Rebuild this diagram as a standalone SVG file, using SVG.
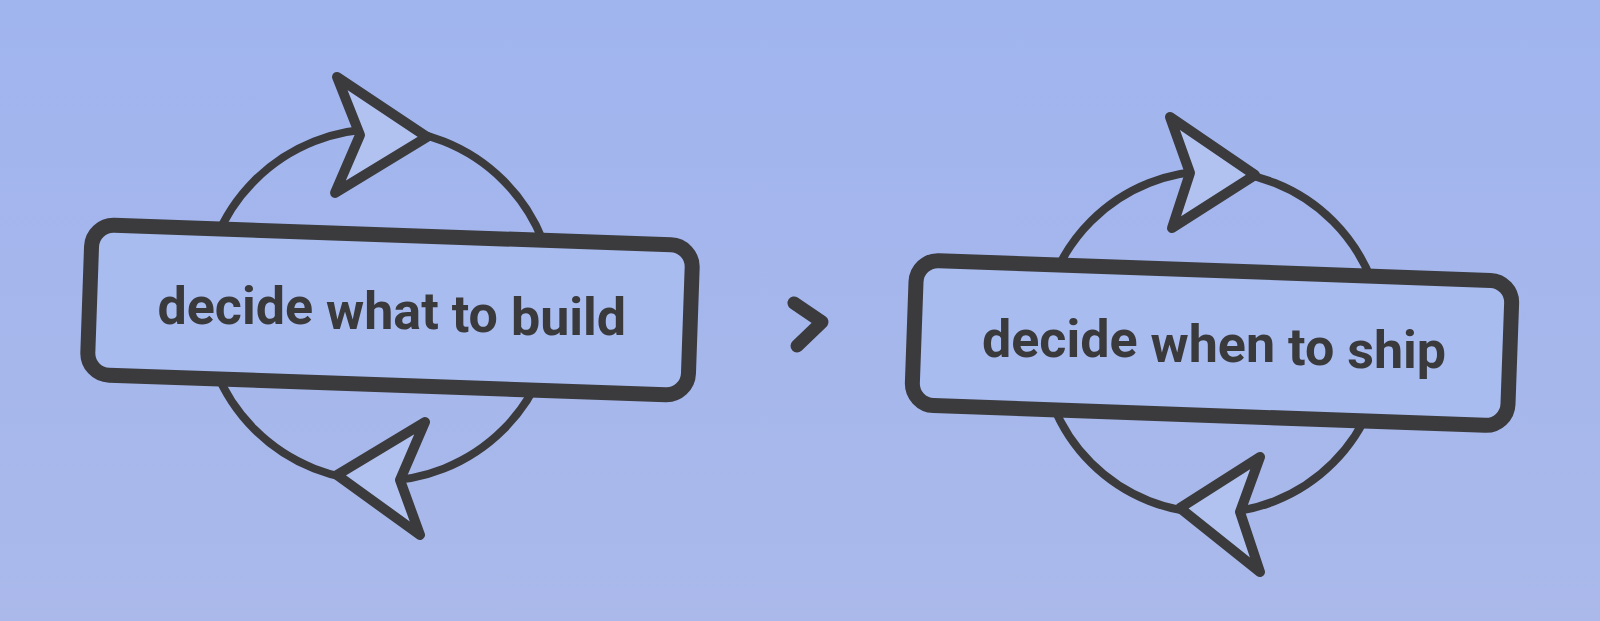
<svg xmlns="http://www.w3.org/2000/svg" width="1600" height="621" viewBox="0 0 1600 621">
  <defs>
    <linearGradient id="bg" x1="0" y1="0" x2="0" y2="1">
      <stop offset="0" stop-color="#a0b4ee"/>
      <stop offset="1" stop-color="#aab9ea"/>
    </linearGradient>
    <style>
      .loop { fill: none; stroke: #3b3b3e; stroke-width: 8; }
      .head { fill: #b2c2f0; stroke: #3b3b3e; stroke-width: 10; stroke-linejoin: round; }
      .box { fill: #a9bcf0; stroke: #3b3b3e; stroke-width: 15; }
      .label { font-family: Roboto, "Liberation Sans", Arial, sans-serif; font-weight: 700; font-size: 52px; fill: #3a3a3c; }
      .chev { fill: none; stroke: #3b3b3e; stroke-width: 13; stroke-linecap: round; stroke-linejoin: round; }
    </style>
  </defs>
  <rect width="1600" height="621" fill="url(#bg)"/>

  <g id="connectors">
    <polyline class="chev" points="794,303 822,322 797,346"/>
  </g>

  <g id="node-build">
    <circle class="loop" cx="379" cy="305" r="176"/>
    <path class="head" d="M337,77 L427,137 L335,193 L360,135 Z"/>
    <path class="head" d="M337,475 L425,422 L400,480 L420,535 Z"/>
    <rect class="box" x="89.5" y="235" width="601" height="150" rx="22" transform="rotate(2 390 310)"/>
    <text class="label" x="157.5" y="323.5">decide<tspan dy="5.1"> what</tspan><tspan dy="3.2"> to</tspan><tspan dy="3.3"> build</tspan></text>
  </g>

  <g id="node-ship">
    <circle class="loop" cx="1212" cy="342" r="171"/>
    <path class="head" d="M1170,117 L1255,175 L1172,228 L1190,173 Z"/>
    <path class="head" d="M1180,508 L1260,457 L1240,512 L1260,572 Z"/>
    <rect class="box" x="914" y="270.5" width="596" height="145" rx="22" transform="rotate(2.05 1212 343)"/>
    <text class="label" x="982" y="356.5">decide<tspan dy="5.4"> when</tspan><tspan dy="3.5"> to</tspan><tspan dy="3"> ship</tspan></text>
  </g>
</svg>
